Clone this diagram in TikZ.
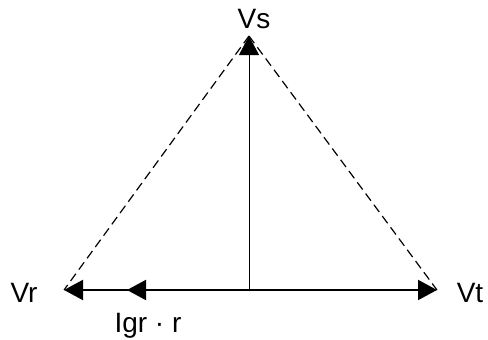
\documentclass[tikz,border=0pt]{standalone}
\usepackage{fontspec}
\setmainfont{Liberation Sans}
\usetikzlibrary{arrows.meta}

\begin{document}
\begin{tikzpicture}[
        x=1pt, y=-1pt,
        >={Triangle[length=19pt, width=20pt]},
        line cap=butt,
        phasor/.style={line width=2pt, ->},
        thin phasor/.style={line width=1pt, ->},
        triangle side/.style={line width=1.2pt, dash pattern=on 9pt off 5pt},
        phasor label/.style={font=\fontsize{28}{30}\selectfont, inner sep=0pt, anchor=base},
    ]
    \useasboundingbox (0,0) rectangle (488,340);

    \coordinate (o) at (249,290);
    \coordinate (vs) at (249,36);
    \coordinate (vr) at (64,290);
    \coordinate (vt) at (437,290);
    \coordinate (igr) at (127,290);

    \draw[triangle side] (vs) -- (vr);
    \draw[triangle side] (vs) -- (vt);

    \draw[thin phasor] (o) -- (vs);
    \draw[phasor] (o) -- (vr);
    \draw[phasor] (o) -- (igr);
    \draw[phasor] (o) -- (vt);

    \node[phasor label] (vs label) at (254,28) {Vs};
    \node[phasor label] (vr label) at (24,302) {Vr};
    \node[phasor label] (vt label) at (470,302) {Vt};
    \node[phasor label] (igr label) at (148,332) {Igr · r};
\end{tikzpicture}
\end{document}
